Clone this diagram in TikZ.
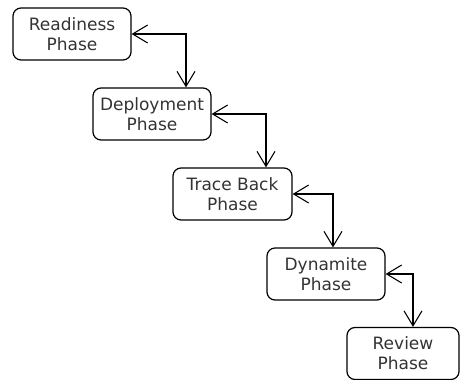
\documentclass[tikz,border=0pt]{standalone}
\usepackage{fontspec}
\setmainfont{DejaVu Sans}
\usetikzlibrary{arrows.meta}
\begin{document}
\begin{tikzpicture}[x=1pt,y=-1pt,
  phase/.style={draw, line width=1.2pt, rounded corners=8pt, align=center,
    inner sep=0pt, minimum height=52pt, text=black!80,
    font=\fontsize{17}{20}\selectfont},
  flow/.style={line width=1.2pt, {Straight Barb[length=15pt,width=18pt,line width=1.1pt]}-{Straight Barb[length=15pt,width=18pt,line width=1.1pt]}}]
  \useasboundingbox (0,0) rectangle (461,380);
  \node[phase, minimum width=118pt] (ready)  at (72,34)    {Readiness\\Phase};
  \node[phase, minimum width=118pt] (deploy) at (152,114)  {Deployment\\Phase};
  \node[phase, minimum width=119pt] (trace)  at (232.5,194){Trace Back\\Phase};
  \node[phase, minimum width=118pt] (dyn)    at (326,274)  {Dynamite\\Phase};
  \node[phase, minimum width=112pt] (review) at (403,353.5){Review\\Phase};
  \draw[flow] (ready.east)  -| (deploy.north -| 186,0);
  \draw[flow] (deploy.east) -| (trace.north -| 266,0);
  \draw[flow] (trace.east)  -| (dyn.north -| 333,0);
  \draw[flow] (dyn.east)    -| (review.north -| 413,0);
\end{tikzpicture}
\end{document}
